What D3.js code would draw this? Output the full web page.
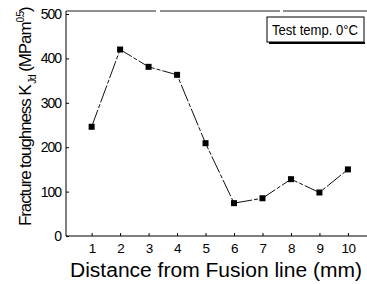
<!DOCTYPE html>
<html>
<head>
<meta charset="utf-8">
<script src="https://cdn.jsdelivr.net/npm/d3@7"></script>
<style>
  body { margin: 0; background: #fff; }
  text { font-family: "Liberation Sans", Arial, sans-serif; fill: #000; }
</style>
</head>
<body>
<div id="chart"></div>
<script>
// distance from fusion line (mm) and K_Jd values
const distance = [1, 2, 3, 4, 5, 6, 7, 8, 9, 10];
const toughness = [246, 420, 381, 363, 209, 74, 85, 128, 98, 150];
const yTicks = [0, 100, 200, 300, 400, 500];
const xTicks = [1, 2, 3, 4, 5, 6, 7, 8, 9, 10];

const width = 367, height = 284;
const svg = d3.select("#chart").append("svg")
  .attr("width", width)
  .attr("height", height);

const x = d3.scaleLinear().domain([0.1, 10.6]).range([66, 365]);
const y = d3.scaleLinear().domain([0, 500]).range([236, 14]);

// top frame line (broken up in the scan)
svg.append("line")
  .attr("x1", 66).attr("x2", 367).attr("y1", 11).attr("y2", 11)
  .attr("stroke", "#222").attr("stroke-width", 1)
  .attr("stroke-dasharray", "90,4,120,3");

// left axis, ticks pointing inward
const yAxis = svg.append("g")
  .attr("transform", "translate(66,0)")
  .call(d3.axisLeft(y).tickValues(yTicks).tickSize(-3).tickPadding(5).tickSizeOuter(0));
yAxis.select(".domain").attr("d", "M0,11V236").attr("stroke", "#000");
yAxis.selectAll(".tick line").attr("stroke", "#000");
yAxis.selectAll("text").attr("font-size", 14).attr("fill", "#000")
  .attr("font-family", "Liberation Sans, Arial").attr("letter-spacing", -1);

// bottom axis
const xAxis = svg.append("g")
  .attr("transform", "translate(0,236)")
  .call(d3.axisBottom(x).tickValues(xTicks).tickSize(-3).tickPadding(7).tickSizeOuter(0));
xAxis.select(".domain").attr("d", "M66,0H367").attr("stroke", "#000");
xAxis.selectAll(".tick line").attr("stroke", "#000");
xAxis.selectAll("text").attr("font-size", 13.5).attr("fill", "#000")
  .attr("font-family", "Liberation Sans, Arial").attr("letter-spacing", -0.6);

// series line
const line = d3.line()
  .x((d, i) => x(distance[i]))
  .y(d => y(d));

svg.append("path")
  .datum(toughness)
  .attr("d", line)
  .attr("fill", "none")
  .attr("stroke", "#111")
  .attr("stroke-width", 1)
  .attr("stroke-dasharray", "18,2,4,2");

svg.selectAll(".pt")
  .data(toughness)
  .enter()
  .append("rect")
  .attr("class", "pt")
  .attr("x", (d, i) => x(distance[i]) - 3)
  .attr("y", d => y(d) - 3)
  .attr("width", 6)
  .attr("height", 6)
  .attr("fill", "#000");

// legend box
const lg = svg.append("g");
lg.append("rect")
  .attr("x", 267).attr("y", 17).attr("width", 97).attr("height", 25)
  .attr("fill", "#fff").attr("stroke", "#000").attr("stroke-width", 1);
lg.append("line")
  .attr("x1", 269).attr("x2", 365).attr("y1", 43).attr("y2", 43)
  .attr("stroke", "#000").attr("stroke-width", 2);
lg.append("text")
  .attr("x", 272).attr("y", 35)
  .attr("font-size", 14)
  .attr("textLength", 86)
  .attr("lengthAdjust", "spacingAndGlyphs")
  .text("Test temp. 0°C");

// x axis title
svg.append("text")
  .attr("x", 70).attr("y", 277)
  .attr("font-size", 20)
  .attr("textLength", 292)
  .attr("lengthAdjust", "spacingAndGlyphs")
  .text("Distance from Fusion line (mm)");

// y axis title with sub/superscripts
const yt = svg.append("text")
  .attr("transform", "translate(31,226) rotate(-90)")
  .attr("font-size", 17)
  .attr("letter-spacing", -1.1);
yt.append("tspan").text("Fracture toughness K");
yt.append("tspan").attr("font-size", 10).attr("dy", 5).text(" Jd");
yt.append("tspan").attr("dy", -5).text(" (MPam");
yt.append("tspan").attr("font-size", 10).attr("dy", -7).text("0.5");
yt.append("tspan").attr("dy", 7).text(")");
</script>
</body>
</html>
